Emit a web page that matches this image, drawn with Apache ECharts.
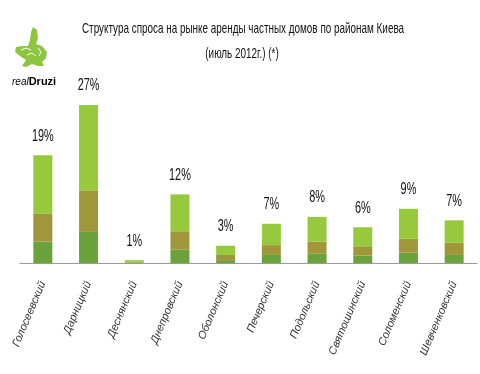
<!DOCTYPE html>
<html>
<head>
<meta charset="utf-8">
<script src="https://cdn.jsdelivr.net/npm/echarts@6/dist/echarts.min.js"></script>
<style>html,body{margin:0;padding:0;background:#fff}#c{width:480px;height:374px}</style>
</head>
<body>
<div id="c"></div>
<script>
var categories = ['Голосеевский','Дарницкий','Деснянский','Днепровский','Оболонский','Печерский','Подольский','Святошинский','Соломенский','Шевченковский'];
var darkVals  = [3.7, 5.4, 0.1, 2.3, 0.5, 1.4, 1.6, 1.3, 1.8, 1.4];
var oliveVals = [4.9, 7.2, 0.1, 3.2, 0.9, 1.7, 2.1, 1.6, 2.4, 2.1];
var lightVals = [10.1, 14.8, 0.3, 6.4, 1.6, 3.7, 4.3, 3.3, 5.2, 3.9];
var totalLabels = ['19%','27%','1%','12%','3%','7%','8%','6%','9%','7%'];
var titleLines = ['Структура спроса на рынке аренды частных домов по районам Киева', '(июль 2012г.) (*)'];

var totals = categories.map(function (c, i) { return [i, darkVals[i] + oliveVals[i] + lightVals[i]]; });

var chart = echarts.init(document.getElementById('c'));
var FONT = '"Liberation Sans Narrow", "Liberation Sans", Arial, sans-serif';
chart.setOption({
  backgroundColor: '#ffffff',
  animation: false,
  grid: { left: 20, right: 3, top: 90, bottom: 111 },
  xAxis: {
    type: 'category', data: categories,
    axisLine: { lineStyle: { color: '#9a9a9a', width: 1 } },
    axisTick: { show: false },
    axisLabel: { rotate: 67, margin: 19, fontFamily: FONT, fontStyle: 'italic', fontSize: 11, color: '#333', interval: 0 }
  },
  yAxis: { type: 'value', min: 0, max: 30, show: false, splitLine: { show: false } },
  series: [
    { type: 'bar', stack: 't', barWidth: 19, data: darkVals, itemStyle: { color: '#6aa23b' } },
    { type: 'bar', stack: 't', barWidth: 19, data: oliveVals, itemStyle: { color: '#a0963a' } },
    { type: 'bar', stack: 't', barWidth: 19, data: lightVals, itemStyle: { color: '#97c93c' } },
    { type: 'custom', data: totals, z: 10,
      renderItem: function (params, api) {
        var pt = api.coord([api.value(0), api.value(1)]);
        return { type: 'text', x: pt[0], y: pt[1] - 19, scaleX: 0.68,
          style: { text: totalLabels[params.dataIndex], fontFamily: FONT, fontSize: 16, fill: '#111',
            textAlign: 'center', textVerticalAlign: 'middle' } };
      } }
  ],
  graphic: [
    { type: 'text', x: 243, y: 29, scaleX: 0.66,
      style: { text: titleLines[0], fontFamily: FONT, fontSize: 15, fill: '#111', textAlign: 'center', textVerticalAlign: 'middle' } },
    { type: 'text', x: 242, y: 54, scaleX: 0.66,
      style: { text: titleLines[1], fontFamily: FONT, fontSize: 15, fill: '#111', textAlign: 'center', textVerticalAlign: 'middle' } },
    { type: 'polygon',
      shape: { points: [[33,27],[37,30],[38,38],[36,44],[42,46],[47,52],[46,58],[42,62],[44,66],[38,66],[32,64],[26,67],[22,66],[26,60],[20,56],[15,52],[16,47],[22,46],[28,46],[30,40],[31,32]] },
      style: { fill: '#8cc63e' } },
    { type: 'polyline', shape: { points: [[21,50],[26,48],[31,50]] }, style: { stroke: '#ffffff', lineWidth: 1, fill: null } },
    { type: 'polyline', shape: { points: [[27,55],[32,53],[36,56]] }, style: { stroke: '#ffffff', lineWidth: 1, fill: null } },
    { type: 'polyline', shape: { points: [[38,48],[41,52],[39,56]] }, style: { stroke: '#ffffff', lineWidth: 1, fill: null } },
    { type: 'text', x: 12, y: 82,
      style: { text: '{a|real}{b|Druzi}', textVerticalAlign: 'middle', rich: {
        a: { fontFamily: FONT, fontStyle: 'italic', fontSize: 10, color: '#9cc65a' },
        b: { fontFamily: FONT, fontWeight: 'bold', fontSize: 11, color: '#111' } } } }
  ]
});
</script>
</body>
</html>
